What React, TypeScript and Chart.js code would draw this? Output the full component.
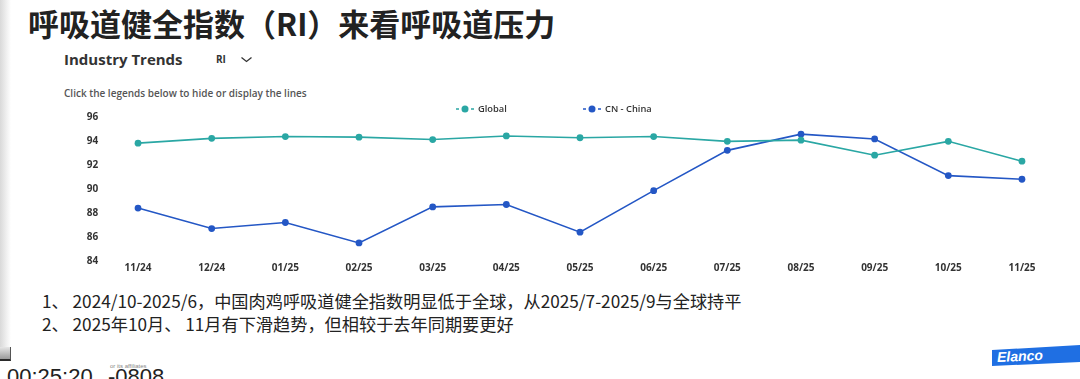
import React, { useEffect, useRef } from "react";
import { Chart, registerables } from "chart.js";

Chart.register(...registerables);

// ---- data ----
const months = ["11/24", "12/24", "01/25", "02/25", "03/25", "04/25", "05/25", "06/25", "07/25", "08/25", "09/25", "10/25", "11/25"];
const globalRI = [93.8, 94.2, 94.35, 94.3, 94.1, 94.4, 94.25, 94.35, 93.95, 94.05, 92.8, 93.95, 92.3];
const chinaRI = [88.4, 86.7, 87.2, 85.5, 88.5, 88.7, 86.4, 89.85, 93.2, 94.55, 94.15, 91.1, 90.8];
const yTicks = [84, 86, 88, 90, 92, 94, 96];
const seriesNames = ["Global", "CN - China"];
const seriesColors = ["#2aa7a4", "#2457c5"];

const titleText = "呼吸道健全指数（RI）来看呼吸道压力";
const noteLines = [
  "1、 2024/10-2025/6，中国肉鸡呼吸道健全指数明显低于全球，从2025/7-2025/9与全球持平",
  "2、 2025年10月、 11月有下滑趋势，但相较于去年同期要更好",
];

const chartFont = "'Open Sans', 'Noto Sans', sans-serif";

const legendPlugin = {
  id: "lineLegend",
  afterDraw(chart: any) {
    const ctx = chart.ctx as CanvasRenderingContext2D;
    const spots = [
      { mx: 465, tx: 478 },
      { mx: 592, tx: 605 },
    ];
    const y = 11;
    ctx.save();
    chart.data.datasets.forEach((ds: any, i: number) => {
      const s = spots[i];
      if (!s) return;
      const c = ds.borderColor;
      ctx.strokeStyle = c;
      ctx.lineWidth = 1.6;
      ctx.beginPath();
      ctx.moveTo(s.mx - 9, y);
      ctx.lineTo(s.mx - 6, y);
      ctx.moveTo(s.mx + 6, y);
      ctx.lineTo(s.mx + 9, y);
      ctx.stroke();
      ctx.fillStyle = c;
      ctx.beginPath();
      ctx.arc(s.mx, y, 3.5, 0, Math.PI * 2);
      ctx.fill();
      ctx.fillStyle = "#333";
      ctx.font = `600 9.3px ${chartFont}`;
      ctx.textBaseline = "middle";
      ctx.textAlign = "left";
      ctx.fillText(ds.label, s.tx, y + 0.5);
    });
    ctx.restore();
  },
};

function LineChart() {
  const ref = useRef<HTMLCanvasElement | null>(null);
  useEffect(() => {
    if (!ref.current) return;
    const chart = new Chart(ref.current, {
      type: "line",
      data: {
        labels: months,
        datasets: [
          {
            label: seriesNames[0],
            data: globalRI,
            borderColor: seriesColors[0],
            backgroundColor: seriesColors[0],
            pointBackgroundColor: seriesColors[0],
            pointBorderColor: seriesColors[0],
            borderWidth: 1.6,
            pointRadius: 3.4,
            pointBorderWidth: 0,
            tension: 0,
          },
          {
            label: seriesNames[1],
            data: chinaRI,
            borderColor: seriesColors[1],
            backgroundColor: seriesColors[1],
            pointBackgroundColor: seriesColors[1],
            pointBorderColor: seriesColors[1],
            borderWidth: 1.6,
            pointRadius: 3.4,
            pointBorderWidth: 0,
            tension: 0,
          },
        ],
      },
      options: {
        animation: false,
        responsive: false,
        maintainAspectRatio: false,
        layout: { padding: { left: 60, right: 21.2, top: 18.7, bottom: 0 } },
        plugins: {
          legend: { display: false },
          tooltip: { enabled: false },
        },
        scales: {
          x: {
            offset: true,
            grid: { display: false, drawTicks: false },
            border: { display: false },
            ticks: {
              color: "#333",
              padding: 1,
              maxRotation: 0,
              autoSkip: false,
              font: { family: chartFont, size: 10, weight: "bold" },
            },
            afterFit: (s: any) => {
              s.height = 19;
            },
          },
          y: {
            min: yTicks[0],
            max: yTicks[yTicks.length - 1],
            grid: { display: false, drawTicks: false },
            border: { display: false },
            ticks: {
              stepSize: yTicks[1] - yTicks[0],
              color: "#333",
              padding: 3,
              font: { family: chartFont, size: 10, weight: "bold" },
            },
            afterFit: (s: any) => {
              s.width = 41.2;
            },
          },
        },
      },
      plugins: [legendPlugin],
    });
    return () => chart.destroy();
  }, []);
  return (
    <canvas
      ref={ref}
      width={1080}
      height={182}
      style={{ position: "absolute", left: 0, top: 98, width: 1080, height: 182 }}
    />
  );
}

export default function App() {
  useEffect(() => {
    document.body.style.margin = "0";
  }, []);
  return (
    <div
      style={{
        position: "fixed",
        left: 0,
        top: 0,
        width: 1080,
        height: 379,
        overflow: "hidden",
        background: "#fff",
      }}
    >
      {/* left shadow strip */}
      <div
        style={{
          position: "absolute",
          left: 0,
          top: 0,
          width: 11,
          height: 347,
          background: "linear-gradient(to right, #d9d9d9, #f4f4f4 70%, #ffffff)",
        }}
      />
      <div
        style={{
          position: "absolute",
          left: 0,
          top: 347,
          width: 10,
          height: 12,
          background: "linear-gradient(to bottom, #e6e6e6, #9a9a9a)",
          borderBottom: "2px solid #2a2a2a",
          borderRight: "1px solid #555",
        }}
      />
      <div
        style={{
          position: "absolute",
          left: 28,
          top: 7,
          fontFamily: "'Noto Sans CJK SC', sans-serif",
          fontWeight: 700,
          fontSize: 31,
          lineHeight: "31px",
          color: "#222",
          whiteSpace: "nowrap",
        }}
      >
        {titleText}
      </div>
      <div
        style={{
          position: "absolute",
          left: 64,
          top: 49,
          fontFamily: chartFont,
          fontWeight: 700,
          fontSize: 15,
          lineHeight: "20px",
          color: "#333",
          whiteSpace: "nowrap",
        }}
      >
        Industry Trends
      </div>
      <div
        style={{
          position: "absolute",
          left: 216,
          top: 53,
          fontFamily: chartFont,
          fontWeight: 700,
          fontSize: 10,
          lineHeight: "12px",
          color: "#333",
        }}
      >
        RI
      </div>
      <svg
        style={{ position: "absolute", left: 240, top: 56 }}
        width={13}
        height={7}
        viewBox="0 0 13 7"
      >
        <polyline points="1.5,1.5 6.5,5.5 11.5,1.5" fill="none" stroke="#333" strokeWidth={1.3} />
      </svg>
      <div
        style={{
          position: "absolute",
          left: 64,
          top: 87,
          fontFamily: chartFont,
          fontWeight: 600,
          fontSize: 10,
          lineHeight: "13px",
          color: "#555",
          whiteSpace: "nowrap",
        }}
      >
        Click the legends below to hide or display the lines
      </div>
      <LineChart />
      {noteLines.map((t, i) => (
        <div
          key={i}
          style={{
            position: "absolute",
            left: 42,
            top: 289 + i * 23,
            fontFamily: "'Noto Sans CJK SC', sans-serif",
            fontSize: 17.2,
            lineHeight: "23px",
            color: "#222",
            whiteSpace: "pre",
          }}
        >
          {t}
        </div>
      ))}
      <div
        style={{
          position: "absolute",
          left: 7,
          top: 366,
          fontFamily: "'Liberation Sans', sans-serif",
          fontSize: 22,
          lineHeight: "22px",
          color: "#222",
          whiteSpace: "nowrap",
        }}
      >
        00:25:20
      </div>
      <div
        style={{
          position: "absolute",
          left: 108,
          top: 366,
          fontFamily: "'Liberation Sans', sans-serif",
          fontSize: 22,
          lineHeight: "22px",
          color: "#222",
          whiteSpace: "nowrap",
        }}
      >
        -0808
      </div>
      <div
        style={{
          position: "absolute",
          left: 110,
          top: 362,
          fontFamily: "'Liberation Sans', sans-serif",
          fontSize: 6,
          lineHeight: "8px",
          color: "#888",
          whiteSpace: "nowrap",
        }}
      >
        or its affiliates
      </div>
      {/* Elanco logo */}
      <div
        style={{
          position: "absolute",
          left: 992,
          top: 345,
          width: 88,
          height: 21,
          background: "#1f6fe3",
          clipPath: "polygon(0 5px, 88px 0, 88px 17px, 0 21px)",
        }}
      />
      <div
        style={{
          position: "absolute",
          left: 997,
          top: 348,
          fontFamily: "'Liberation Sans', sans-serif",
          fontWeight: 700,
          fontStyle: "italic",
          fontSize: 14,
          lineHeight: "16px",
          color: "#fff",
          transform: "rotate(-2.5deg)",
          whiteSpace: "nowrap",
        }}
      >
        Elanco
      </div>
    </div>
  );
}
